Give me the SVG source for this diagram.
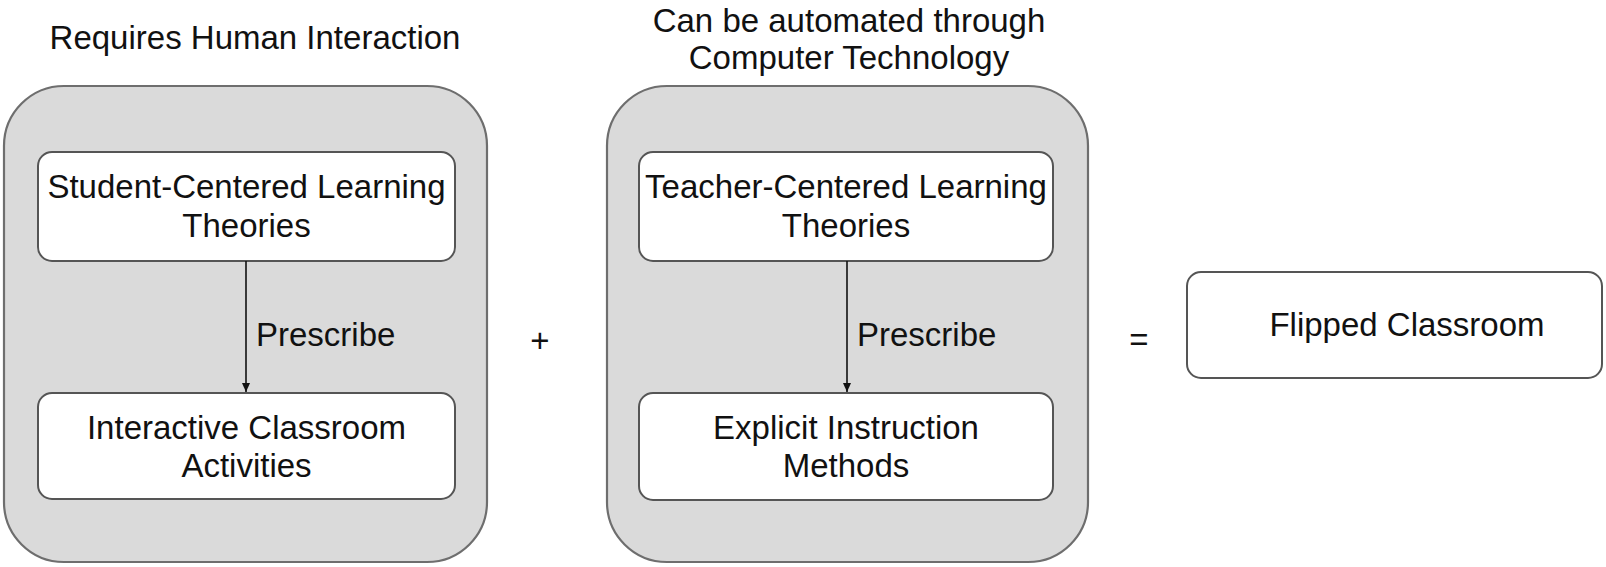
<svg xmlns="http://www.w3.org/2000/svg" width="1606" height="567" viewBox="0 0 1606 567">
<style>
  text { font-family: "Liberation Sans", Arial, sans-serif; font-size: 33px; fill: #111; }
  .c { text-anchor: middle; }
  .outer { fill: #dadada; stroke: #6e6e6e; stroke-width: 2.2; }
  .inner { fill: #ffffff; stroke: #555; stroke-width: 2; }
  .conn { stroke: #111; stroke-width: 1.6; fill: none; }
</style>
<defs>
  <marker id="arrow" markerWidth="10" markerHeight="12" refX="9" refY="5" orient="auto" markerUnits="userSpaceOnUse">
    <path d="M0,1 L9,5 L0,9 Z" fill="#111"/>
  </marker>
</defs>
<rect width="1606" height="567" fill="#ffffff"/>

<g id="title-human">
  <text class="c" x="255" y="49">Requires Human Interaction</text>
</g>
<g id="title-automated">
  <text class="c" x="849" y="32">Can be automated through</text>
  <text class="c" x="849" y="69">Computer Technology</text>
</g>

<g id="group-human">
  <rect class="outer" x="4" y="86" width="483" height="476" rx="60" ry="60"/>
</g>
<g id="group-automated">
  <rect class="outer" x="607" y="86" width="481" height="476" rx="60" ry="60"/>
</g>

<g id="node-student-centered">
  <rect class="inner" x="38" y="152" width="417" height="109" rx="14" ry="14"/>
  <text class="c" x="246.5" y="198">Student-Centered Learning</text>
  <text class="c" x="246.5" y="237">Theories</text>
</g>
<g id="node-interactive">
  <rect class="inner" x="38" y="393" width="417" height="106" rx="14" ry="14"/>
  <text class="c" x="246.5" y="439">Interactive Classroom</text>
  <text class="c" x="246.5" y="477">Activities</text>
</g>
<g id="node-teacher-centered">
  <rect class="inner" x="639" y="152" width="414" height="109" rx="14" ry="14"/>
  <text class="c" x="846" y="198">Teacher-Centered Learning</text>
  <text class="c" x="846" y="237">Theories</text>
</g>
<g id="node-explicit">
  <rect class="inner" x="639" y="393" width="414" height="107" rx="14" ry="14"/>
  <text class="c" x="846" y="439">Explicit Instruction</text>
  <text class="c" x="846" y="477">Methods</text>
</g>

<g id="connectors">
  <line class="conn" x1="246" y1="261" x2="246" y2="392" marker-end="url(#arrow)"/>
  <text x="256" y="346">Prescribe</text>
  <line class="conn" x1="847" y1="261" x2="847" y2="392" marker-end="url(#arrow)"/>
  <text x="857" y="346">Prescribe</text>
</g>

<g id="op-plus">
  <text class="c" x="540" y="352">+</text>
</g>
<g id="op-equals">
  <text class="c" x="1139" y="351">=</text>
</g>

<g id="node-flipped">
  <rect class="inner" x="1187" y="272" width="415" height="106" rx="14" ry="14" stroke="#666"/>
  <text class="c" x="1407" y="336">Flipped Classroom</text>
</g>
</svg>
